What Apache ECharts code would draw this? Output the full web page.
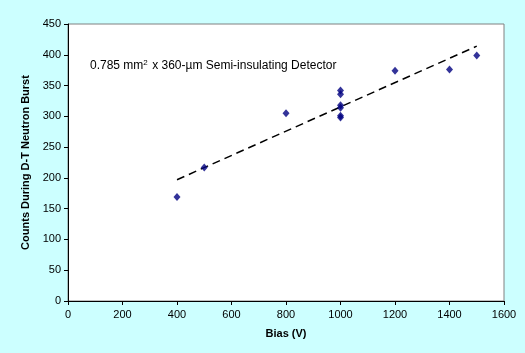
<!DOCTYPE html>
<html>
<head>
<meta charset="UTF-8">
<title>Counts vs Bias</title>
<script type="text/javascript" src="https://cdn.jsdelivr.net/npm/echarts@6/dist/echarts.min.js"></script>
<style>
  html, body { margin: 0; padding: 0; background: #ccffff; }
</style>
</head>
<body>
    <div id="main" style="width: 525px;height:353px;"></div>
    <script type="text/javascript">
        // measured points (bias in V, counts)
        var biasV = [400, 500, 800, 1000, 1000, 1000, 1000, 1000, 1000, 1200, 1400, 1500];
        var counts = [169, 217, 305, 342, 336, 318, 314, 301, 298, 374, 376, 399];
        // trend line end points
        var trendX = [400, 1500];
        var trendY = [197, 414];

        var pts = biasV.map(function (b, i) { return [b, counts[i]]; });
        var trend = trendX.map(function (b, i) { return [b, trendY[i]]; });

        var myChart = echarts.init(document.getElementById('main'));
        var font = 'Liberation Sans, Arial, sans-serif';

        var option = {
            backgroundColor: '#ccffff',
            animation: false,
            grid: {
                left: 68, right: 21, top: 24, bottom: 52,
                show: true, backgroundColor: '#ffffff',
                borderColor: '#808080', borderWidth: 1
            },
            xAxis: {
                type: 'value', min: 0, max: 1600, interval: 200,
                name: 'Bias (V)', nameLocation: 'middle', nameGap: 27,
                nameTextStyle: { fontFamily: font, fontSize: 11, fontWeight: 'bold', color: '#000' },
                axisLine: { lineStyle: { color: '#000', width: 1 } },
                axisTick: { show: true, length: 4, lineStyle: { color: '#000' } },
                axisLabel: {
                    fontFamily: font, fontSize: 11, color: '#000', margin: 8,
                    formatter: function (v) { return String(v); }
                },
                splitLine: { show: false }
            },
            yAxis: {
                type: 'value', min: 0, max: 450, interval: 50,
                name: 'Counts During D-T Neutron Burst', nameLocation: 'middle', nameGap: 37,
                nameTextStyle: { fontFamily: font, fontSize: 11, fontWeight: 'bold', color: '#000' },
                axisLine: { show: true, lineStyle: { color: '#000', width: 1 } },
                axisTick: { show: true, length: 4, lineStyle: { color: '#000' } },
                axisLabel: { fontFamily: font, fontSize: 11, color: '#000', margin: 7 },
                splitLine: { show: false }
            },
            graphic: [{
                type: 'text', left: 90, top: 59,
                style: {
                    text: '0.785 mm{sup|2} x 360-µm Semi-insulating Detector',
                    fontFamily: font, fontSize: 12, fill: '#000',
                    rich: {
                        sup: { fontSize: 8, verticalAlign: 'top', padding: [0, 1, 6, 0] }
                    }
                }
            }],
            series: [{
                name: 'trend',
                type: 'line',
                data: trend,
                symbol: 'none',
                lineStyle: { color: '#000', width: 1.5, type: [8, 5] },
                z: 1
            }, {
                name: 'counts',
                type: 'scatter',
                data: pts,
                symbol: 'diamond',
                symbolSize: [7, 8],
                itemStyle: { color: '#000080' },
                z: 2
            }]
        };

        myChart.setOption(option);
    </script>
</body>
</html>
